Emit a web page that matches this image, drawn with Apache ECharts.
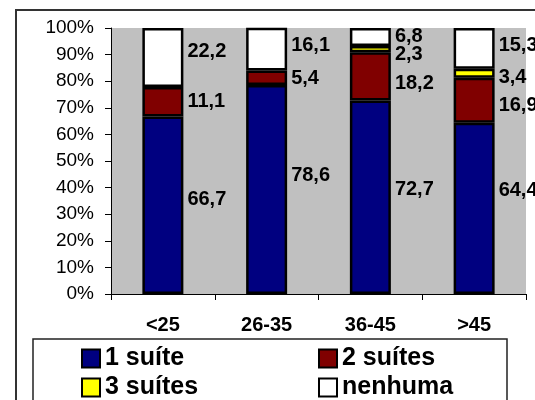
<!DOCTYPE html>
<html>
<head>
<meta charset="utf-8">
<script src="https://cdn.jsdelivr.net/npm/echarts@6/dist/echarts.min.js"></script>
<style>
  html, body { margin: 0; padding: 0; background: #ffffff; }
  #chart { width: 535px; height: 400px; }
</style>
</head>
<body>
<div id="chart"></div>
<script>
// Faixas etárias e distribuição (%) do número de suítes
const categories = ['<25', '26-35', '36-45', '>45'];
const umaSuite    = [66.7, 78.6, 72.7, 64.4];
const duasSuites  = [11.1, 5.4, 18.2, 16.9];
const tresSuites  = [0, 0, 2.3, 3.4];
const nenhuma     = [22.2, 16.1, 6.8, 15.3];
const yTicks = [0, 10, 20, 30, 40, 50, 60, 70, 80, 90, 100];

// vertical nudges (px) for the value labels beside each segment
const shiftUma     = [-6, -14, -8, -18];
const shiftDuas    = [0, 1, 7, 5];
const shiftTres    = [0, 0, 5, 4];
const shiftNenhuma = [-6, -4, -1, -3];

const FONT = '"Liberation Sans", Arial, sans-serif';

function fmt(p) {
  return p.value ? p.value.toFixed(1).replace('.', ',') : '';
}

function makeSeries(name, values, shifts, color) {
  return {
    name: name,
    type: 'bar',
    stack: 'total',
    barWidth: 41,
    itemStyle: { color: color, borderColor: '#000000', borderWidth: 2.5 },
    label: {
      show: true,
      position: 'right',
      distance: 4,
      formatter: fmt,
      color: '#000000',
      fontFamily: FONT,
      fontWeight: 'bold',
      fontSize: 20
    },
    // empty segments are left out so they draw no outline
    data: values.map((v, i) => (v === 0 ? '-' : { value: v, label: { offset: [0, shifts[i]] } }))
  };
}

const legendText = { fontFamily: FONT, fontWeight: 'bold', fontSize: 25, color: '#000000' };

const chart = echarts.init(document.getElementById('chart'), null, { renderer: 'canvas' });

chart.setOption({
  animation: false,
  backgroundColor: '#ffffff',
  textStyle: { fontFamily: FONT },
  graphic: [
    {
      type: 'rect',
      z: -10,
      shape: { x: 16, y: 10, width: 540, height: 420 },
      style: { fill: 'none', stroke: '#333333', lineWidth: 2 }
    },
    {
      type: 'rect',
      z: -5,
      shape: { x: 33, y: 339, width: 474, height: 80 },
      style: { fill: '#ffffff', stroke: '#222222', lineWidth: 1.5 }
    }
  ],
  grid: {
    left: 111, right: 9, top: 28, bottom: 106,
    show: true, backgroundColor: '#C0C0C0', borderWidth: 0
  },
  legend: [
    {
      orient: 'vertical',
      left: 81, top: 346, height: 70, width: 200,
      padding: 0,
      itemGap: 4,
      itemWidth: 18, itemHeight: 18,
      icon: 'rect',
      data: ['1 suíte', '3 suítes'],
      textStyle: legendText
    },
    {
      orient: 'vertical',
      left: 318, top: 346, height: 70, width: 180,
      padding: 0,
      itemGap: 4,
      itemWidth: 18, itemHeight: 18,
      icon: 'rect',
      data: ['2 suítes', 'nenhuma'],
      textStyle: legendText
    }
  ],
  xAxis: {
    type: 'category',
    data: categories,
    axisLine: { lineStyle: { color: '#000000', width: 1 } },
    axisTick: { show: true, length: 6, lineStyle: { color: '#000000' } },
    axisLabel: {
      margin: 21,
      color: '#000000',
      fontFamily: FONT,
      fontWeight: 'bold',
      fontSize: 20
    }
  },
  yAxis: {
    type: 'value',
    min: yTicks[0],
    max: yTicks[yTicks.length - 1],
    interval: yTicks[1] - yTicks[0],
    axisLine: { show: true, lineStyle: { color: '#000000', width: 1 } },
    axisTick: { show: true, length: 6, lineStyle: { color: '#000000' } },
    splitLine: { show: false },
    axisLabel: {
      margin: 17,
      formatter: '{value}%',
      color: '#000000',
      fontFamily: FONT,
      fontSize: 19
    }
  },
  series: [
    makeSeries('1 suíte', umaSuite, shiftUma, '#000080'),
    makeSeries('2 suítes', duasSuites, shiftDuas, '#800000'),
    makeSeries('3 suítes', tresSuites, shiftTres, '#FFFF00'),
    makeSeries('nenhuma', nenhuma, shiftNenhuma, '#FFFFFF')
  ]
});
</script>
</body>
</html>
